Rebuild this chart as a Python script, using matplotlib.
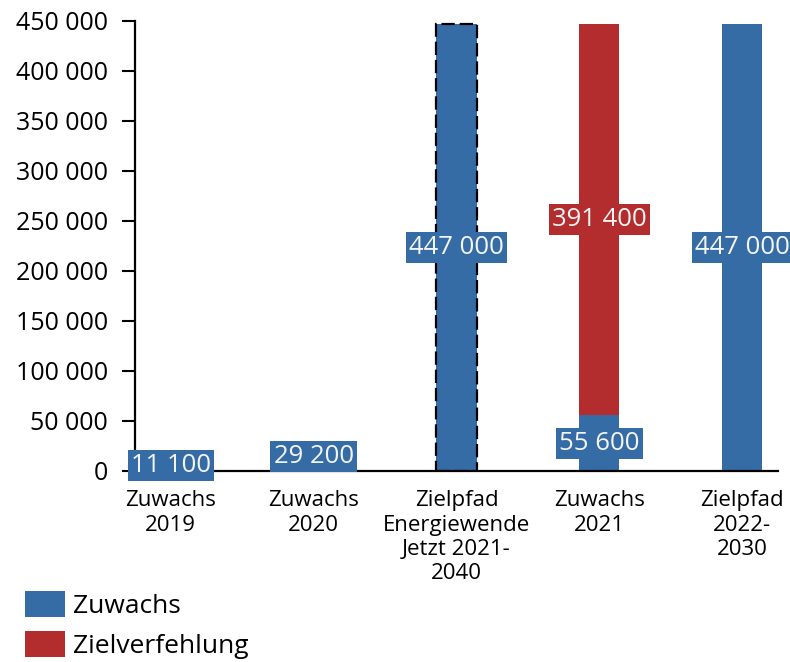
import matplotlib.pyplot as plt
import numpy as np

plt.rcParams['font.family'] = ['Open Sans', 'DejaVu Sans']

categories = ['Zuwachs\n2019', 'Zuwachs\n2020', 'Zielpfad\nEnergiewende\nJetzt 2021-\n2040',
              'Zuwachs\n2021', 'Zielpfad\n2022-\n2030']
zuwachs = [11100, 29200, 447000, 55600, 447000]
zielverfehlung = [0, 0, 0, 391400, 0]

BLUE = '#366ca6'
RED = '#b32d2e'


def fmt(v):
    return f'{v:,.0f}'.replace(',', ' ')


fig = plt.figure(figsize=(7.9, 6.62), dpi=100)
ax = fig.add_axes([135 / 790, 1 - 471 / 662, (778 - 135) / 790, 450 / 662])

x = np.arange(len(categories))
w = 0.28
b1 = ax.bar(x, zuwachs, w, color=BLUE, label='Zuwachs')
b2 = ax.bar(x, zielverfehlung, w, bottom=zuwachs, color=RED, label='Zielverfehlung')

# dashed outline on the long-term target path
b1[2].set_edgecolor('black')
b1[2].set_linestyle((0, (6, 2.2)))
b1[2].set_linewidth(1.6)

for bars, vals, col in [(b1, zuwachs, BLUE), (b2, zielverfehlung, RED)]:
    ax.bar_label(bars, labels=[fmt(v) if v > 0 else '' for v in vals], label_type='center',
                 color='#f4f4f4', fontsize=18.5,
                 bbox=dict(boxstyle='square,pad=0.12', fc=col, ec='none'))

ax.set_xlim(-0.25, 4.25)
ax.set_ylim(0, 450000)
ax.set_yticks(np.arange(0, 450001, 50000))
ax.set_yticklabels([fmt(v) for v in np.arange(0, 450001, 50000)], fontsize=18)
ax.set_xticks(x)
ax.set_xticklabels(categories, fontsize=16, linespacing=1.2)
ax.tick_params(axis='x', length=0, pad=14)
ax.tick_params(axis='y', length=9.5, width=1.5, pad=10)

for s in ['top', 'right']:
    ax.spines[s].set_visible(False)
for s in ['left', 'bottom']:
    ax.spines[s].set_linewidth(1.6)

fig.legend(handles=[b1, b2], loc='upper left', bbox_to_anchor=(25 / 790, 1 - 591 / 662),
           frameon=False, fontsize=19, handlelength=1.5, handleheight=1.15,
           handletextpad=0.3, labelspacing=0.45, borderpad=0, borderaxespad=0)

fig.savefig('out.png', dpi=100)
